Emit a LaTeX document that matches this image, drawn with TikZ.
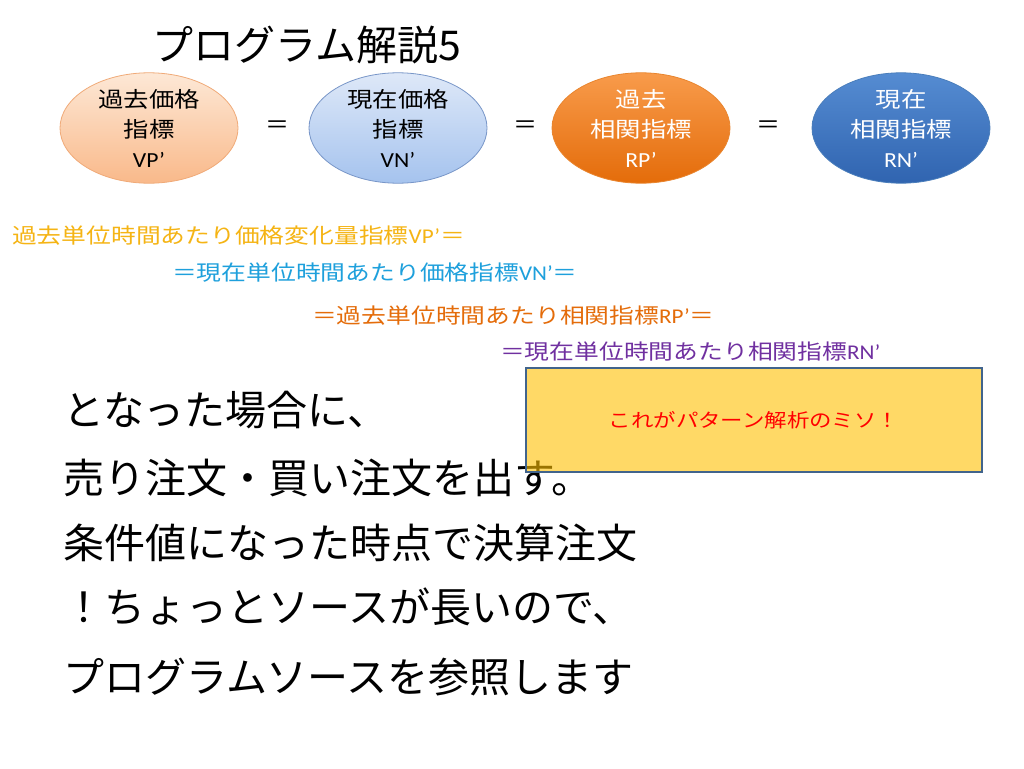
\documentclass[tikz,border=0pt]{standalone}
\usepackage{fontspec}
\usetikzlibrary{shapes.geometric,positioning}
\newfontfamily\jp{Noto Sans CJK JP}
\newfontfamily\jpw[FakeStretch=1.18]{Noto Sans CJK JP}
\newfontfamily\lat[FakeStretch=1.1]{Carlito}
\definecolor{goldtxt}{RGB}{245,180,20}
\definecolor{cyantxt}{RGB}{30,160,220}
\definecolor{orangetxt}{RGB}{228,108,10}
\definecolor{purpletxt}{RGB}{112,48,160}
\definecolor{memofill}{RGB}{255,192,0}
\definecolor{memoline}{RGB}{65,100,140}

\begin{document}
\begin{tikzpicture}[x=1pt,y=-1pt,
  oval/.style={ellipse,minimum width=178pt,minimum height=93pt,inner sep=0pt,
    align=center,line width=0.8pt,font=\jpw\fontsize{21.5}{30}\selectfont},
  eqsign/.style={font=\jp\fontsize{24}{24}\selectfont},
  condline/.style={anchor=west,inner sep=0pt,font=\jpw\fontsize{21}{21}\selectfont},
  bodyline/.style={anchor=west,inner sep=0pt,font=\jp\fontsize{41}{41}\selectfont},
  memo/.style={rectangle,minimum width=456pt,minimum height=104pt,
    fill=memofill,fill opacity=0.6,text opacity=1,draw=memoline,line width=2pt,
    text=red,font=\jpw\fontsize{19}{19}\selectfont}]
\fill[white] (0,0) rectangle (1024,768);
\useasboundingbox (0,0) rectangle (1024,768);

\node[font=\jp\fontsize{41}{41}\selectfont] (title) at (307,45) {プログラム解説5};

\node[oval,draw={rgb,255:red,240;green,170;blue,120},top color={rgb,255:red,253;green,232;blue,214},
  bottom color={rgb,255:red,249;green,185;blue,138}] (vp) at (149,128) {過去価格\\指標\\{\lat VP’}};
\node[oval,draw={rgb,255:red,120;green,150;blue,200},top color={rgb,255:red,222;green,232;blue,248},
  bottom color={rgb,255:red,165;green,195;blue,238}] (vn) at (398,128) {現在価格\\指標\\{\lat VN’}};
\node[oval,draw={rgb,255:red,233;green,133;blue,46},top color={rgb,255:red,248;green,155;blue,75},
  bottom color={rgb,255:red,228;green,108;blue,10},text=white] (rp) at (641,128) {過去\\相関指標\\{\lat RP’}};
\node[oval,draw={rgb,255:red,74;green,126;blue,187},top color={rgb,255:red,85;green,140;blue,210},
  bottom color={rgb,255:red,48;green,100;blue,176},text=white] (rn) at (901,128) {現在\\相関指標\\{\lat RN’}};

\node[eqsign] (eq1) at (277,127) {＝};
\node[eqsign] (eq2) at (525,127) {＝};
\node[eqsign] (eq3) at (768,127) {＝};

\node[condline,text=goldtxt] (cvp) at (12,236) {過去単位時間あたり価格変化量指標{\lat VP’}＝};
\node[condline,text=cyantxt] (cvn) at (172,273) {＝現在単位時間あたり価格指標{\lat VN’}＝};
\node[condline,text=orangetxt] (crp) at (312,316) {＝過去単位時間あたり相関指標{\lat RP’}＝};
\node[condline,text=purpletxt] (crn) at (500,352) {＝現在単位時間あたり相関指標{\lat RN’}};

\node[bodyline] (b1) at (63,410) {となった場合に、};
\node[bodyline] (b2) at (63,478) {売り注文・買い注文を出す。};
\node[bodyline] (b3) at (63,543) {条件値になった時点で決算注文};
\node[bodyline] (b4) at (63,607) {！ちょっとソースが長いので、};
\node[bodyline] (b5) at (63,677) {プログラムソースを参照します};

\node[memo] (miso) at (754,420) {これがパターン解析のミソ！};
\end{tikzpicture}
\end{document}
